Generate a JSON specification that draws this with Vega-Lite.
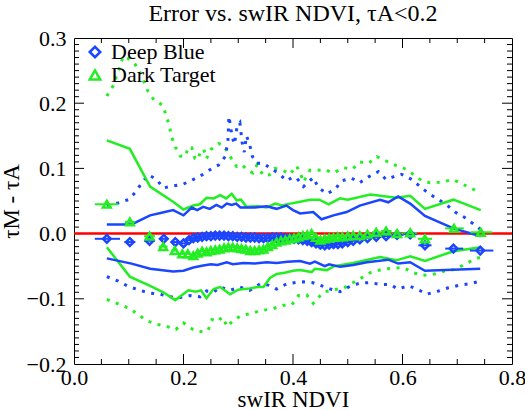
{
"$schema": "https://vega.github.io/schema/vega-lite/v6.json",
"width": 438, "height": 326,
"autosize": {"type": "none"},
"padding": {"left": 74, "top": 38, "right": 13, "bottom": 46},
"background": "white",
"title": {"text": "Error vs. swIR NDVI, τA<0.2", "font": "Liberation Serif", "fontSize": 24, "fontWeight": "normal", "color": "black", "offset": 1, "anchor": "middle"},
"config": {
 "view": {"stroke": "black", "strokeWidth": 1},
 "axis": {"grid": false, "domain": false, "labelFont": "Liberation Serif", "labelFontSize": 22, "labelColor": "black", "titleFont": "Liberation Serif", "titleFontSize": 23, "titleFontWeight": "normal", "titleColor": "black", "labelFlush": false, "labelOverlap": false, "labelBound": false}
},
"datasets": {
 "xTicks": [
  {"v":0.2,"k":"major"},{"v":0.4,"k":"major"},{"v":0.6,"k":"major"},
  {"v":0.05,"k":"minor"},{"v":0.1,"k":"minor"},{"v":0.15,"k":"minor"},{"v":0.25,"k":"minor"},{"v":0.3,"k":"minor"},{"v":0.35,"k":"minor"},{"v":0.45,"k":"minor"},{"v":0.5,"k":"minor"},{"v":0.55,"k":"minor"},{"v":0.65,"k":"minor"},{"v":0.7,"k":"minor"},{"v":0.75,"k":"minor"}
 ],
 "yTicks": [
  {"v":-0.1,"k":"major"},{"v":0.0,"k":"major"},{"v":0.1,"k":"major"},{"v":0.2,"k":"major"},
  {"v":-0.19,"k":"minor"},{"v":-0.18,"k":"minor"},{"v":-0.17,"k":"minor"},{"v":-0.16,"k":"minor"},{"v":-0.15,"k":"minor"},{"v":-0.14,"k":"minor"},{"v":-0.13,"k":"minor"},{"v":-0.12,"k":"minor"},{"v":-0.11,"k":"minor"},{"v":-0.09,"k":"minor"},{"v":-0.08,"k":"minor"},{"v":-0.07,"k":"minor"},{"v":-0.06,"k":"minor"},{"v":-0.05,"k":"minor"},{"v":-0.04,"k":"minor"},{"v":-0.03,"k":"minor"},{"v":-0.02,"k":"minor"},{"v":-0.01,"k":"minor"},{"v":0.01,"k":"minor"},{"v":0.02,"k":"minor"},{"v":0.03,"k":"minor"},{"v":0.04,"k":"minor"},{"v":0.05,"k":"minor"},{"v":0.06,"k":"minor"},{"v":0.07,"k":"minor"},{"v":0.08,"k":"minor"},{"v":0.09,"k":"minor"},{"v":0.11,"k":"minor"},{"v":0.12,"k":"minor"},{"v":0.13,"k":"minor"},{"v":0.14,"k":"minor"},{"v":0.15,"k":"minor"},{"v":0.16,"k":"minor"},{"v":0.17,"k":"minor"},{"v":0.18,"k":"minor"},{"v":0.19,"k":"minor"},{"v":0.21,"k":"minor"},{"v":0.22,"k":"minor"},{"v":0.23,"k":"minor"},{"v":0.24,"k":"minor"},{"v":0.25,"k":"minor"},{"v":0.26,"k":"minor"},{"v":0.27,"k":"minor"},{"v":0.28,"k":"minor"},{"v":0.29,"k":"minor"}
 ],
 "greenDot": [
  {"b":"u","x":0.060,"y":0.211},{"b":"u","x":0.071,"y":0.226},{"b":"u","x":0.082,"y":0.252},{"b":"u","x":0.090,"y":0.272},{"b":"u","x":0.100,"y":0.268},{"b":"u","x":0.110,"y":0.262},{"b":"u","x":0.122,"y":0.245},{"b":"u","x":0.134,"y":0.220},{"b":"u","x":0.146,"y":0.205},{"b":"u","x":0.162,"y":0.197},{"b":"u","x":0.168,"y":0.182},{"b":"u","x":0.174,"y":0.166},{"b":"u","x":0.178,"y":0.149},{"b":"u","x":0.185,"y":0.133},{"b":"u","x":0.194,"y":0.119},{"b":"u","x":0.203,"y":0.118},{"b":"u","x":0.209,"y":0.133},{"b":"u","x":0.215,"y":0.132},{"b":"u","x":0.221,"y":0.115},{"b":"u","x":0.226,"y":0.113},{"b":"u","x":0.232,"y":0.128},{"b":"u","x":0.237,"y":0.129},{"b":"u","x":0.242,"y":0.115},{"b":"u","x":0.250,"y":0.129},{"b":"u","x":0.264,"y":0.138},{"b":"u","x":0.272,"y":0.136},{"b":"u","x":0.282,"y":0.123},{"b":"u","x":0.291,"y":0.110},{"b":"u","x":0.297,"y":0.103},{"b":"u","x":0.306,"y":0.106},{"b":"u","x":0.318,"y":0.097},{"b":"u","x":0.327,"y":0.093},{"b":"u","x":0.334,"y":0.105},{"b":"u","x":0.346,"y":0.089},{"b":"u","x":0.357,"y":0.090},{"b":"u","x":0.367,"y":0.100},{"b":"u","x":0.379,"y":0.098},{"b":"u","x":0.395,"y":0.091},{"b":"u","x":0.406,"y":0.104},{"b":"u","x":0.413,"y":0.094},{"b":"u","x":0.419,"y":0.079},{"b":"u","x":0.431,"y":0.097},{"b":"u","x":0.445,"y":0.097},{"b":"u","x":0.458,"y":0.098},{"b":"u","x":0.474,"y":0.093},{"b":"u","x":0.492,"y":0.101},{"b":"u","x":0.509,"y":0.099},{"b":"u","x":0.522,"y":0.110},{"b":"u","x":0.538,"y":0.108},{"b":"u","x":0.553,"y":0.118},{"b":"u","x":0.566,"y":0.113},{"b":"u","x":0.583,"y":0.106},{"b":"u","x":0.601,"y":0.101},{"b":"u","x":0.618,"y":0.092},{"b":"u","x":0.634,"y":0.082},{"b":"u","x":0.650,"y":0.078},{"b":"u","x":0.672,"y":0.079},{"b":"u","x":0.692,"y":0.083},{"b":"u","x":0.709,"y":0.076},{"b":"u","x":0.727,"y":0.069},{"b":"u","x":0.743,"y":0.062},
  {"b":"l","x":0.060,"y":-0.101},{"b":"l","x":0.081,"y":-0.108},{"b":"l","x":0.099,"y":-0.114},{"b":"l","x":0.116,"y":-0.123},{"b":"l","x":0.131,"y":-0.133},{"b":"l","x":0.150,"y":-0.139},{"b":"l","x":0.168,"y":-0.142},{"b":"l","x":0.186,"y":-0.147},{"b":"l","x":0.200,"y":-0.137},{"b":"l","x":0.217,"y":-0.147},{"b":"l","x":0.227,"y":-0.150},{"b":"l","x":0.238,"y":-0.151},{"b":"l","x":0.245,"y":-0.148},{"b":"l","x":0.252,"y":-0.132},{"b":"l","x":0.262,"y":-0.135},{"b":"l","x":0.271,"y":-0.128},{"b":"l","x":0.280,"y":-0.143},{"b":"l","x":0.292,"y":-0.132},{"b":"l","x":0.308,"y":-0.125},{"b":"l","x":0.322,"y":-0.123},{"b":"l","x":0.337,"y":-0.119},{"b":"l","x":0.350,"y":-0.117},{"b":"l","x":0.364,"y":-0.115},{"b":"l","x":0.382,"y":-0.110},{"b":"l","x":0.398,"y":-0.109},{"b":"l","x":0.410,"y":-0.095},{"b":"l","x":0.425,"y":-0.094},{"b":"l","x":0.437,"y":-0.107},{"b":"l","x":0.455,"y":-0.090},{"b":"l","x":0.474,"y":-0.086},{"b":"l","x":0.492,"y":-0.084},{"b":"l","x":0.510,"y":-0.075},{"b":"l","x":0.525,"y":-0.068},{"b":"l","x":0.541,"y":-0.060},{"b":"l","x":0.562,"y":-0.055},{"b":"l","x":0.583,"y":-0.053},{"b":"l","x":0.601,"y":-0.052},{"b":"l","x":0.620,"y":-0.060},{"b":"l","x":0.638,"y":-0.064},{"b":"l","x":0.658,"y":-0.062},{"b":"l","x":0.678,"y":-0.057},{"b":"l","x":0.696,"y":-0.055},{"b":"l","x":0.714,"y":-0.047},{"b":"l","x":0.732,"y":-0.039},{"b":"l","x":0.743,"y":-0.036}
 ],
 "blueDot": [
  {"b":"u","x":0.060,"y":0.044},{"b":"u","x":0.081,"y":0.047},{"b":"u","x":0.099,"y":0.052},{"b":"u","x":0.113,"y":0.064},{"b":"u","x":0.124,"y":0.078},{"b":"u","x":0.136,"y":0.090},{"b":"u","x":0.151,"y":0.083},{"b":"u","x":0.163,"y":0.070},{"b":"u","x":0.181,"y":0.073},{"b":"u","x":0.200,"y":0.076},{"b":"u","x":0.218,"y":0.083},{"b":"u","x":0.236,"y":0.091},{"b":"u","x":0.252,"y":0.100},{"b":"u","x":0.264,"y":0.105},{"b":"u","x":0.276,"y":0.118},{"b":"u","x":0.281,"y":0.140},{"b":"u","x":0.283,"y":0.180},{"b":"u","x":0.289,"y":0.148},{"b":"u","x":0.293,"y":0.137},{"b":"u","x":0.298,"y":0.165},{"b":"u","x":0.303,"y":0.170},{"b":"u","x":0.307,"y":0.140},{"b":"u","x":0.311,"y":0.125},{"b":"u","x":0.315,"y":0.150},{"b":"u","x":0.321,"y":0.136},{"b":"u","x":0.326,"y":0.118},{"b":"u","x":0.334,"y":0.108},{"b":"u","x":0.345,"y":0.108},{"b":"u","x":0.358,"y":0.101},{"b":"u","x":0.374,"y":0.092},{"b":"u","x":0.389,"y":0.081},{"b":"u","x":0.398,"y":0.086},{"b":"u","x":0.406,"y":0.086},{"b":"u","x":0.419,"y":0.072},{"b":"u","x":0.437,"y":0.086},{"b":"u","x":0.446,"y":0.071},{"b":"u","x":0.462,"y":0.061},{"b":"u","x":0.477,"y":0.068},{"b":"u","x":0.489,"y":0.081},{"b":"u","x":0.507,"y":0.085},{"b":"u","x":0.522,"y":0.078},{"b":"u","x":0.538,"y":0.087},{"b":"u","x":0.556,"y":0.095},{"b":"u","x":0.570,"y":0.083},{"b":"u","x":0.583,"y":0.087},{"b":"u","x":0.598,"y":0.091},{"b":"u","x":0.617,"y":0.083},{"b":"u","x":0.631,"y":0.073},{"b":"u","x":0.647,"y":0.062},{"b":"u","x":0.664,"y":0.053},{"b":"u","x":0.681,"y":0.044},{"b":"u","x":0.696,"y":0.033},{"b":"u","x":0.713,"y":0.025},{"b":"u","x":0.729,"y":0.015},{"b":"u","x":0.743,"y":0.006},
  {"b":"l","x":0.060,"y":-0.066},{"b":"l","x":0.081,"y":-0.073},{"b":"l","x":0.099,"y":-0.081},{"b":"l","x":0.117,"y":-0.086},{"b":"l","x":0.137,"y":-0.091},{"b":"l","x":0.157,"y":-0.093},{"b":"l","x":0.175,"y":-0.097},{"b":"l","x":0.194,"y":-0.098},{"b":"l","x":0.212,"y":-0.095},{"b":"l","x":0.230,"y":-0.097},{"b":"l","x":0.242,"y":-0.088},{"b":"l","x":0.255,"y":-0.090},{"b":"l","x":0.267,"y":-0.082},{"b":"l","x":0.285,"y":-0.087},{"b":"l","x":0.303,"y":-0.082},{"b":"l","x":0.321,"y":-0.087},{"b":"l","x":0.340,"y":-0.077},{"b":"l","x":0.355,"y":-0.079},{"b":"l","x":0.370,"y":-0.085},{"b":"l","x":0.389,"y":-0.077},{"b":"l","x":0.405,"y":-0.075},{"b":"l","x":0.419,"y":-0.074},{"b":"l","x":0.435,"y":-0.075},{"b":"l","x":0.449,"y":-0.079},{"b":"l","x":0.468,"y":-0.085},{"b":"l","x":0.486,"y":-0.089},{"b":"l","x":0.504,"y":-0.081},{"b":"l","x":0.522,"y":-0.076},{"b":"l","x":0.541,"y":-0.075},{"b":"l","x":0.559,"y":-0.078},{"b":"l","x":0.577,"y":-0.078},{"b":"l","x":0.592,"y":-0.085},{"b":"l","x":0.611,"y":-0.080},{"b":"l","x":0.629,"y":-0.086},{"b":"l","x":0.644,"y":-0.093},{"b":"l","x":0.666,"y":-0.088},{"b":"l","x":0.684,"y":-0.083},{"b":"l","x":0.705,"y":-0.079},{"b":"l","x":0.723,"y":-0.077},{"b":"l","x":0.742,"y":-0.073}
 ],
 "greenSolid": [
  {"b":"u","x":0.060,"y":0.143},{"b":"u","x":0.102,"y":0.130},{"b":"u","x":0.139,"y":0.072},{"b":"u","x":0.181,"y":0.049},{"b":"u","x":0.200,"y":0.037},{"b":"u","x":0.218,"y":0.043},{"b":"u","x":0.230,"y":0.045},{"b":"u","x":0.242,"y":0.055},{"b":"u","x":0.255,"y":0.054},{"b":"u","x":0.267,"y":0.059},{"b":"u","x":0.278,"y":0.054},{"b":"u","x":0.288,"y":0.061},{"b":"u","x":0.297,"y":0.051},{"b":"u","x":0.305,"y":0.052},{"b":"u","x":0.315,"y":0.041},{"b":"u","x":0.335,"y":0.042},{"b":"u","x":0.352,"y":0.040},{"b":"u","x":0.367,"y":0.046},{"b":"u","x":0.380,"y":0.043},{"b":"u","x":0.395,"y":0.046},{"b":"u","x":0.413,"y":0.049},{"b":"u","x":0.431,"y":0.052},{"b":"u","x":0.448,"y":0.052},{"b":"u","x":0.465,"y":0.045},{"b":"u","x":0.486,"y":0.054},{"b":"u","x":0.500,"y":0.052},{"b":"u","x":0.541,"y":0.060},{"b":"u","x":0.589,"y":0.055},{"b":"u","x":0.614,"y":0.058},{"b":"u","x":0.641,"y":0.038},{"b":"u","x":0.693,"y":0.052},{"b":"u","x":0.743,"y":0.036},
  {"b":"l","x":0.060,"y":-0.021},{"b":"l","x":0.102,"y":-0.066},{"b":"l","x":0.139,"y":-0.080},{"b":"l","x":0.163,"y":-0.090},{"b":"l","x":0.185,"y":-0.102},{"b":"l","x":0.209,"y":-0.087},{"b":"l","x":0.222,"y":-0.089},{"b":"l","x":0.232,"y":-0.087},{"b":"l","x":0.242,"y":-0.099},{"b":"l","x":0.255,"y":-0.085},{"b":"l","x":0.267,"y":-0.082},{"b":"l","x":0.285,"y":-0.093},{"b":"l","x":0.300,"y":-0.086},{"b":"l","x":0.321,"y":-0.084},{"b":"l","x":0.335,"y":-0.082},{"b":"l","x":0.346,"y":-0.082},{"b":"l","x":0.358,"y":-0.068},{"b":"l","x":0.370,"y":-0.062},{"b":"l","x":0.385,"y":-0.060},{"b":"l","x":0.400,"y":-0.057},{"b":"l","x":0.413,"y":-0.056},{"b":"l","x":0.434,"y":-0.059},{"b":"l","x":0.440,"y":-0.054},{"b":"l","x":0.462,"y":-0.056},{"b":"l","x":0.475,"y":-0.050},{"b":"l","x":0.510,"y":-0.045},{"b":"l","x":0.559,"y":-0.036},{"b":"l","x":0.589,"y":-0.041},{"b":"l","x":0.614,"y":-0.035},{"b":"l","x":0.641,"y":-0.042},{"b":"l","x":0.693,"y":-0.027},{"b":"l","x":0.743,"y":-0.021}
 ],
 "blueSolid": [
  {"b":"u","x":0.060,"y":0.014},{"b":"u","x":0.105,"y":0.014},{"b":"u","x":0.139,"y":0.028},{"b":"u","x":0.160,"y":0.032},{"b":"u","x":0.181,"y":0.036},{"b":"u","x":0.200,"y":0.028},{"b":"u","x":0.215,"y":0.040},{"b":"u","x":0.225,"y":0.036},{"b":"u","x":0.236,"y":0.041},{"b":"u","x":0.248,"y":0.038},{"b":"u","x":0.260,"y":0.044},{"b":"u","x":0.270,"y":0.040},{"b":"u","x":0.279,"y":0.046},{"b":"u","x":0.288,"y":0.044},{"b":"u","x":0.296,"y":0.046},{"b":"u","x":0.304,"y":0.040},{"b":"u","x":0.312,"y":0.040},{"b":"u","x":0.330,"y":0.040},{"b":"u","x":0.352,"y":0.042},{"b":"u","x":0.370,"y":0.038},{"b":"u","x":0.388,"y":0.043},{"b":"u","x":0.400,"y":0.036},{"b":"u","x":0.413,"y":0.031},{"b":"u","x":0.437,"y":0.033},{"b":"u","x":0.452,"y":0.022},{"b":"u","x":0.474,"y":0.028},{"b":"u","x":0.498,"y":0.033},{"b":"u","x":0.522,"y":0.043},{"b":"u","x":0.559,"y":0.052},{"b":"u","x":0.574,"y":0.048},{"b":"u","x":0.592,"y":0.057},{"b":"u","x":0.614,"y":0.046},{"b":"u","x":0.641,"y":0.027},{"b":"u","x":0.693,"y":0.008},{"b":"u","x":0.743,"y":-0.004},
  {"b":"l","x":0.060,"y":-0.038},{"b":"l","x":0.105,"y":-0.046},{"b":"l","x":0.139,"y":-0.054},{"b":"l","x":0.181,"y":-0.058},{"b":"l","x":0.200,"y":-0.057},{"b":"l","x":0.218,"y":-0.052},{"b":"l","x":0.236,"y":-0.049},{"b":"l","x":0.250,"y":-0.047},{"b":"l","x":0.262,"y":-0.048},{"b":"l","x":0.279,"y":-0.044},{"b":"l","x":0.290,"y":-0.047},{"b":"l","x":0.310,"y":-0.045},{"b":"l","x":0.330,"y":-0.046},{"b":"l","x":0.352,"y":-0.044},{"b":"l","x":0.370,"y":-0.045},{"b":"l","x":0.390,"y":-0.043},{"b":"l","x":0.413,"y":-0.042},{"b":"l","x":0.431,"y":-0.046},{"b":"l","x":0.440,"y":-0.043},{"b":"l","x":0.458,"y":-0.050},{"b":"l","x":0.466,"y":-0.047},{"b":"l","x":0.486,"y":-0.051},{"b":"l","x":0.510,"y":-0.048},{"b":"l","x":0.535,"y":-0.044},{"b":"l","x":0.574,"y":-0.040},{"b":"l","x":0.592,"y":-0.046},{"b":"l","x":0.614,"y":-0.044},{"b":"l","x":0.641,"y":-0.057},{"b":"l","x":0.742,"y":-0.054}
 ],
 "means": [
  {"ds":"Deep Blue","x":0.060,"y":-0.008,"lo":0.038,"hi":0.084},{"ds":"Deep Blue","x":0.102,"y":-0.013,"lo":0.092,"hi":0.112},{"ds":"Deep Blue","x":0.138,"y":-0.011,"lo":0.128,"hi":0.148},{"ds":"Deep Blue","x":0.164,"y":-0.008,"lo":0.156,"hi":0.172},{"ds":"Deep Blue","x":0.185,"y":-0.013,"lo":0.179,"hi":0.191},{"ds":"Deep Blue","x":0.200,"y":-0.015,"lo":0.195,"hi":0.205},{"ds":"Deep Blue","x":0.210,"y":-0.010,"lo":0.206,"hi":0.214},
  {"ds":"Deep Blue","x":0.218,"y":-0.007,"lo":0.214,"hi":0.222},{"ds":"Deep Blue","x":0.226,"y":-0.006,"lo":0.222,"hi":0.230},{"ds":"Deep Blue","x":0.234,"y":-0.005,"lo":0.230,"hi":0.238},{"ds":"Deep Blue","x":0.242,"y":-0.004,"lo":0.238,"hi":0.246},{"ds":"Deep Blue","x":0.250,"y":-0.004,"lo":0.246,"hi":0.254},{"ds":"Deep Blue","x":0.258,"y":-0.003,"lo":0.254,"hi":0.262},{"ds":"Deep Blue","x":0.266,"y":-0.003,"lo":0.262,"hi":0.270},{"ds":"Deep Blue","x":0.274,"y":-0.003,"lo":0.270,"hi":0.278},{"ds":"Deep Blue","x":0.282,"y":-0.004,"lo":0.278,"hi":0.286},{"ds":"Deep Blue","x":0.290,"y":-0.004,"lo":0.286,"hi":0.294},{"ds":"Deep Blue","x":0.298,"y":-0.005,"lo":0.294,"hi":0.302},{"ds":"Deep Blue","x":0.306,"y":-0.005,"lo":0.302,"hi":0.310},{"ds":"Deep Blue","x":0.314,"y":-0.006,"lo":0.310,"hi":0.318},{"ds":"Deep Blue","x":0.322,"y":-0.006,"lo":0.318,"hi":0.326},{"ds":"Deep Blue","x":0.330,"y":-0.006,"lo":0.326,"hi":0.334},{"ds":"Deep Blue","x":0.338,"y":-0.007,"lo":0.334,"hi":0.342},{"ds":"Deep Blue","x":0.346,"y":-0.007,"lo":0.342,"hi":0.350},{"ds":"Deep Blue","x":0.354,"y":-0.007,"lo":0.350,"hi":0.358},{"ds":"Deep Blue","x":0.362,"y":-0.006,"lo":0.358,"hi":0.366},{"ds":"Deep Blue","x":0.370,"y":-0.006,"lo":0.366,"hi":0.374},{"ds":"Deep Blue","x":0.378,"y":-0.006,"lo":0.374,"hi":0.382},{"ds":"Deep Blue","x":0.386,"y":-0.007,"lo":0.382,"hi":0.390},{"ds":"Deep Blue","x":0.394,"y":-0.007,"lo":0.390,"hi":0.398},{"ds":"Deep Blue","x":0.402,"y":-0.008,"lo":0.398,"hi":0.406},{"ds":"Deep Blue","x":0.410,"y":-0.009,"lo":0.406,"hi":0.414},{"ds":"Deep Blue","x":0.418,"y":-0.010,"lo":0.414,"hi":0.422},{"ds":"Deep Blue","x":0.426,"y":-0.011,"lo":0.422,"hi":0.430},{"ds":"Deep Blue","x":0.434,"y":-0.013,"lo":0.430,"hi":0.438},{"ds":"Deep Blue","x":0.442,"y":-0.015,"lo":0.438,"hi":0.446},{"ds":"Deep Blue","x":0.450,"y":-0.017,"lo":0.446,"hi":0.454},{"ds":"Deep Blue","x":0.458,"y":-0.018,"lo":0.454,"hi":0.462},{"ds":"Deep Blue","x":0.466,"y":-0.017,"lo":0.462,"hi":0.470},{"ds":"Deep Blue","x":0.474,"y":-0.016,"lo":0.470,"hi":0.478},{"ds":"Deep Blue","x":0.482,"y":-0.016,"lo":0.478,"hi":0.486},{"ds":"Deep Blue","x":0.490,"y":-0.015,"lo":0.486,"hi":0.495},{"ds":"Deep Blue","x":0.500,"y":-0.013,"lo":0.495,"hi":0.505},{"ds":"Deep Blue","x":0.510,"y":-0.011,"lo":0.505,"hi":0.516},{"ds":"Deep Blue","x":0.522,"y":-0.009,"lo":0.516,"hi":0.529},{"ds":"Deep Blue","x":0.536,"y":-0.007,"lo":0.529,"hi":0.544},{"ds":"Deep Blue","x":0.552,"y":-0.005,"lo":0.544,"hi":0.561},{"ds":"Deep Blue","x":0.570,"y":-0.004,"lo":0.561,"hi":0.580},{"ds":"Deep Blue","x":0.590,"y":-0.002,"lo":0.580,"hi":0.602},{"ds":"Deep Blue","x":0.614,"y":-0.001,"lo":0.603,"hi":0.626},{"ds":"Deep Blue","x":0.641,"y":-0.018,"lo":0.629,"hi":0.653},{"ds":"Deep Blue","x":0.693,"y":-0.023,"lo":0.678,"hi":0.711},{"ds":"Deep Blue","x":0.742,"y":-0.026,"lo":0.723,"hi":0.766},
  {"ds":"Dark Target","x":0.060,"y":0.045,"lo":0.038,"hi":0.081},{"ds":"Dark Target","x":0.102,"y":0.018,"lo":0.093,"hi":0.112},{"ds":"Dark Target","x":0.138,"y":-0.004,"lo":0.128,"hi":0.148},{"ds":"Dark Target","x":0.163,"y":-0.020,"lo":0.155,"hi":0.171},{"ds":"Dark Target","x":0.184,"y":-0.026,"lo":0.178,"hi":0.190},{"ds":"Dark Target","x":0.198,"y":-0.031,"lo":0.193,"hi":0.203},{"ds":"Dark Target","x":0.208,"y":-0.031,"lo":0.204,"hi":0.213},
  {"ds":"Dark Target","x":0.218,"y":-0.034,"lo":0.214,"hi":0.222},{"ds":"Dark Target","x":0.226,"y":-0.030,"lo":0.222,"hi":0.230},{"ds":"Dark Target","x":0.234,"y":-0.027,"lo":0.230,"hi":0.238},{"ds":"Dark Target","x":0.242,"y":-0.028,"lo":0.238,"hi":0.246},{"ds":"Dark Target","x":0.250,"y":-0.026,"lo":0.246,"hi":0.254},{"ds":"Dark Target","x":0.258,"y":-0.025,"lo":0.254,"hi":0.262},{"ds":"Dark Target","x":0.266,"y":-0.024,"lo":0.262,"hi":0.270},{"ds":"Dark Target","x":0.274,"y":-0.022,"lo":0.270,"hi":0.278},{"ds":"Dark Target","x":0.282,"y":-0.021,"lo":0.278,"hi":0.286},{"ds":"Dark Target","x":0.290,"y":-0.021,"lo":0.286,"hi":0.294},{"ds":"Dark Target","x":0.298,"y":-0.022,"lo":0.294,"hi":0.302},{"ds":"Dark Target","x":0.306,"y":-0.023,"lo":0.302,"hi":0.310},{"ds":"Dark Target","x":0.314,"y":-0.024,"lo":0.310,"hi":0.318},{"ds":"Dark Target","x":0.322,"y":-0.026,"lo":0.318,"hi":0.326},{"ds":"Dark Target","x":0.330,"y":-0.026,"lo":0.326,"hi":0.334},{"ds":"Dark Target","x":0.338,"y":-0.025,"lo":0.334,"hi":0.342},{"ds":"Dark Target","x":0.346,"y":-0.024,"lo":0.342,"hi":0.350},{"ds":"Dark Target","x":0.354,"y":-0.020,"lo":0.350,"hi":0.358},{"ds":"Dark Target","x":0.362,"y":-0.017,"lo":0.358,"hi":0.366},{"ds":"Dark Target","x":0.370,"y":-0.013,"lo":0.366,"hi":0.374},{"ds":"Dark Target","x":0.378,"y":-0.011,"lo":0.374,"hi":0.382},{"ds":"Dark Target","x":0.386,"y":-0.010,"lo":0.382,"hi":0.390},{"ds":"Dark Target","x":0.394,"y":-0.008,"lo":0.390,"hi":0.398},{"ds":"Dark Target","x":0.402,"y":-0.007,"lo":0.398,"hi":0.406},{"ds":"Dark Target","x":0.410,"y":-0.005,"lo":0.406,"hi":0.414},{"ds":"Dark Target","x":0.418,"y":-0.003,"lo":0.414,"hi":0.422},{"ds":"Dark Target","x":0.426,"y":-0.002,"lo":0.422,"hi":0.430},{"ds":"Dark Target","x":0.434,"y":0.000,"lo":0.430,"hi":0.438},{"ds":"Dark Target","x":0.442,"y":-0.006,"lo":0.438,"hi":0.446},{"ds":"Dark Target","x":0.450,"y":-0.010,"lo":0.446,"hi":0.454},{"ds":"Dark Target","x":0.458,"y":-0.008,"lo":0.454,"hi":0.462},{"ds":"Dark Target","x":0.466,"y":-0.007,"lo":0.462,"hi":0.470},{"ds":"Dark Target","x":0.474,"y":-0.006,"lo":0.470,"hi":0.478},{"ds":"Dark Target","x":0.482,"y":-0.005,"lo":0.478,"hi":0.486},{"ds":"Dark Target","x":0.490,"y":-0.005,"lo":0.486,"hi":0.495},{"ds":"Dark Target","x":0.500,"y":-0.004,"lo":0.495,"hi":0.505},{"ds":"Dark Target","x":0.510,"y":-0.003,"lo":0.505,"hi":0.516},{"ds":"Dark Target","x":0.522,"y":-0.003,"lo":0.516,"hi":0.529},{"ds":"Dark Target","x":0.536,"y":-0.001,"lo":0.529,"hi":0.544},{"ds":"Dark Target","x":0.552,"y":0.002,"lo":0.544,"hi":0.561},{"ds":"Dark Target","x":0.570,"y":0.004,"lo":0.561,"hi":0.580},{"ds":"Dark Target","x":0.590,"y":0.000,"lo":0.580,"hi":0.602},{"ds":"Dark Target","x":0.614,"y":0.001,"lo":0.603,"hi":0.626},{"ds":"Dark Target","x":0.641,"y":-0.008,"lo":0.628,"hi":0.654},{"ds":"Dark Target","x":0.694,"y":0.008,"lo":0.678,"hi":0.712},{"ds":"Dark Target","x":0.743,"y":0.002,"lo":0.724,"hi":0.764}
 ]
},
"layer": [
 {"data": {"name": "xTicks"},
  "transform": [{"filter": "datum.k == 'major'"}],
  "mark": {"type": "rule", "color": "black", "strokeWidth": 1, "strokeDash": [10, 306]},
  "encoding": {
   "x": {"field": "v", "type": "quantitative", "scale": {"domain": [0, 0.8], "nice": false, "zero": false}, "axis": {"orient": "bottom", "values": [0, 0.2, 0.4, 0.6, 0.8], "format": ".1f", "ticks": false, "labelPadding": 3, "title": "swIR NDVI", "titlePadding": 0}},
   "y": {"datum": -0.2, "type": "quantitative", "scale": {"domain": [-0.2, 0.3], "nice": false, "zero": false}, "axis": {"orient": "left", "values": [-0.2, -0.1, 0, 0.1, 0.2, 0.3], "format": ".1f", "ticks": false, "labelPadding": 8, "title": "τM - τA", "titlePadding": 3}},
   "y2": {"datum": 0.3}}},
 {"data": {"name": "xTicks"},
  "transform": [{"filter": "datum.k == 'minor'"}],
  "mark": {"type": "rule", "color": "black", "strokeWidth": 1, "strokeDash": [5, 316]},
  "encoding": {
   "x": {"field": "v", "type": "quantitative", "scale": {"domain": [0, 0.8], "nice": false, "zero": false}, "axis": {"orient": "bottom", "values": [0, 0.2, 0.4, 0.6, 0.8], "format": ".1f", "ticks": false, "labelPadding": 3, "title": "swIR NDVI", "titlePadding": 0}},
   "y": {"datum": -0.2, "type": "quantitative", "scale": {"domain": [-0.2, 0.3], "nice": false, "zero": false}, "axis": {"orient": "left", "values": [-0.2, -0.1, 0, 0.1, 0.2, 0.3], "format": ".1f", "ticks": false, "labelPadding": 8, "title": "τM - τA", "titlePadding": 3}},
   "y2": {"datum": 0.3}}},
 {"data": {"name": "yTicks"},
  "transform": [{"filter": "datum.k == 'major'"}],
  "mark": {"type": "rule", "color": "black", "strokeWidth": 1, "strokeDash": [10, 418]},
  "encoding": {
   "y": {"field": "v", "type": "quantitative", "scale": {"domain": [-0.2, 0.3], "nice": false, "zero": false}, "axis": {"orient": "left", "values": [-0.2, -0.1, 0, 0.1, 0.2, 0.3], "format": ".1f", "ticks": false, "labelPadding": 8, "title": "τM - τA", "titlePadding": 3}},
   "x": {"datum": 0, "type": "quantitative", "scale": {"domain": [0, 0.8], "nice": false, "zero": false}, "axis": {"orient": "bottom", "values": [0, 0.2, 0.4, 0.6, 0.8], "format": ".1f", "ticks": false, "labelPadding": 3, "title": "swIR NDVI", "titlePadding": 0}},
   "x2": {"datum": 0.8}}},
 {"data": {"name": "yTicks"},
  "transform": [{"filter": "datum.k == 'minor'"}],
  "mark": {"type": "rule", "color": "black", "strokeWidth": 1, "strokeDash": [5, 428]},
  "encoding": {
   "y": {"field": "v", "type": "quantitative", "scale": {"domain": [-0.2, 0.3], "nice": false, "zero": false}, "axis": {"orient": "left", "values": [-0.2, -0.1, 0, 0.1, 0.2, 0.3], "format": ".1f", "ticks": false, "labelPadding": 8, "title": "τM - τA", "titlePadding": 3}},
   "x": {"datum": 0, "type": "quantitative", "scale": {"domain": [0, 0.8], "nice": false, "zero": false}, "axis": {"orient": "bottom", "values": [0, 0.2, 0.4, 0.6, 0.8], "format": ".1f", "ticks": false, "labelPadding": 3, "title": "swIR NDVI", "titlePadding": 0}},
   "x2": {"datum": 0.8}}},
 {"data": {"values": [{"ref": 0}]},
  "mark": {"type": "rule", "color": "#ff0000", "strokeWidth": 2.5},
  "encoding": {"y": {"field": "ref", "type": "quantitative", "scale": {"domain": [-0.2, 0.3], "nice": false, "zero": false}}}},
 {"data": {"name": "greenDot"},
  "mark": {"type": "line", "color": "#22ee22", "strokeWidth": 3, "strokeDash": [3, 6.5], "strokeCap": "butt"},
  "encoding": {
   "x": {"field": "x", "type": "quantitative", "scale": {"domain": [0, 0.8], "nice": false, "zero": false}},
   "y": {"field": "y", "type": "quantitative", "scale": {"domain": [-0.2, 0.3], "nice": false, "zero": false}},
   "detail": {"field": "b"}}},
 {"data": {"name": "blueDot"},
  "mark": {"type": "line", "color": "#1a46ff", "strokeWidth": 3, "strokeDash": [3, 6.5], "strokeCap": "butt"},
  "encoding": {
   "x": {"field": "x", "type": "quantitative", "scale": {"domain": [0, 0.8], "nice": false, "zero": false}},
   "y": {"field": "y", "type": "quantitative", "scale": {"domain": [-0.2, 0.3], "nice": false, "zero": false}},
   "detail": {"field": "b"}}},
 {"data": {"name": "greenSolid"},
  "mark": {"type": "line", "color": "#22ee22", "strokeWidth": 2.5},
  "encoding": {
   "x": {"field": "x", "type": "quantitative", "scale": {"domain": [0, 0.8], "nice": false, "zero": false}},
   "y": {"field": "y", "type": "quantitative", "scale": {"domain": [-0.2, 0.3], "nice": false, "zero": false}},
   "detail": {"field": "b"}}},
 {"data": {"name": "blueSolid"},
  "mark": {"type": "line", "color": "#1a46ff", "strokeWidth": 2.5},
  "encoding": {
   "x": {"field": "x", "type": "quantitative", "scale": {"domain": [0, 0.8], "nice": false, "zero": false}},
   "y": {"field": "y", "type": "quantitative", "scale": {"domain": [-0.2, 0.3], "nice": false, "zero": false}},
   "detail": {"field": "b"}}},
 {"data": {"name": "means"},
  "transform": [{"filter": "datum.ds == 'Deep Blue'"}],
  "mark": {"type": "rule", "color": "#1a46ff", "strokeWidth": 2},
  "encoding": {
   "x": {"field": "lo", "type": "quantitative", "scale": {"domain": [0, 0.8], "nice": false, "zero": false}},
   "x2": {"field": "hi"},
   "y": {"field": "y", "type": "quantitative", "scale": {"domain": [-0.2, 0.3], "nice": false, "zero": false}}}},
 {"data": {"name": "means"},
  "transform": [{"filter": "datum.ds == 'Dark Target'"}],
  "mark": {"type": "rule", "color": "#22ee22", "strokeWidth": 2},
  "encoding": {
   "x": {"field": "lo", "type": "quantitative", "scale": {"domain": [0, 0.8], "nice": false, "zero": false}},
   "x2": {"field": "hi"},
   "y": {"field": "y", "type": "quantitative", "scale": {"domain": [-0.2, 0.3], "nice": false, "zero": false}}}},
 {"data": {"name": "means"},
  "mark": {"type": "point", "filled": false, "strokeWidth": 2.5, "size": 60, "opacity": 1},
  "encoding": {
   "x": {"field": "x", "type": "quantitative", "scale": {"domain": [0, 0.8], "nice": false, "zero": false}},
   "y": {"field": "y", "type": "quantitative", "scale": {"domain": [-0.2, 0.3], "nice": false, "zero": false}},
   "color": {"field": "ds", "type": "nominal", "scale": {"domain": ["Deep Blue", "Dark Target"], "range": ["#1a46ff", "#22ee22"]},
     "legend": {"title": null, "orient": "none", "legendX": 10, "legendY": 3, "padding": 0, "labelFont": "Liberation Serif", "labelFontSize": 22, "labelColor": "black", "labelOffset": 5, "symbolSize": 110, "symbolStrokeWidth": 2.5, "rowPadding": 1}},
   "shape": {"field": "ds", "type": "nominal", "scale": {"domain": ["Deep Blue", "Dark Target"], "range": ["diamond", "triangle-up"]},
     "legend": {"title": null, "orient": "none", "legendX": 10, "legendY": 3, "padding": 0, "labelFont": "Liberation Serif", "labelFontSize": 22, "labelColor": "black", "labelOffset": 5, "symbolSize": 110, "symbolStrokeWidth": 2.5, "rowPadding": 1}}}}
]
}
